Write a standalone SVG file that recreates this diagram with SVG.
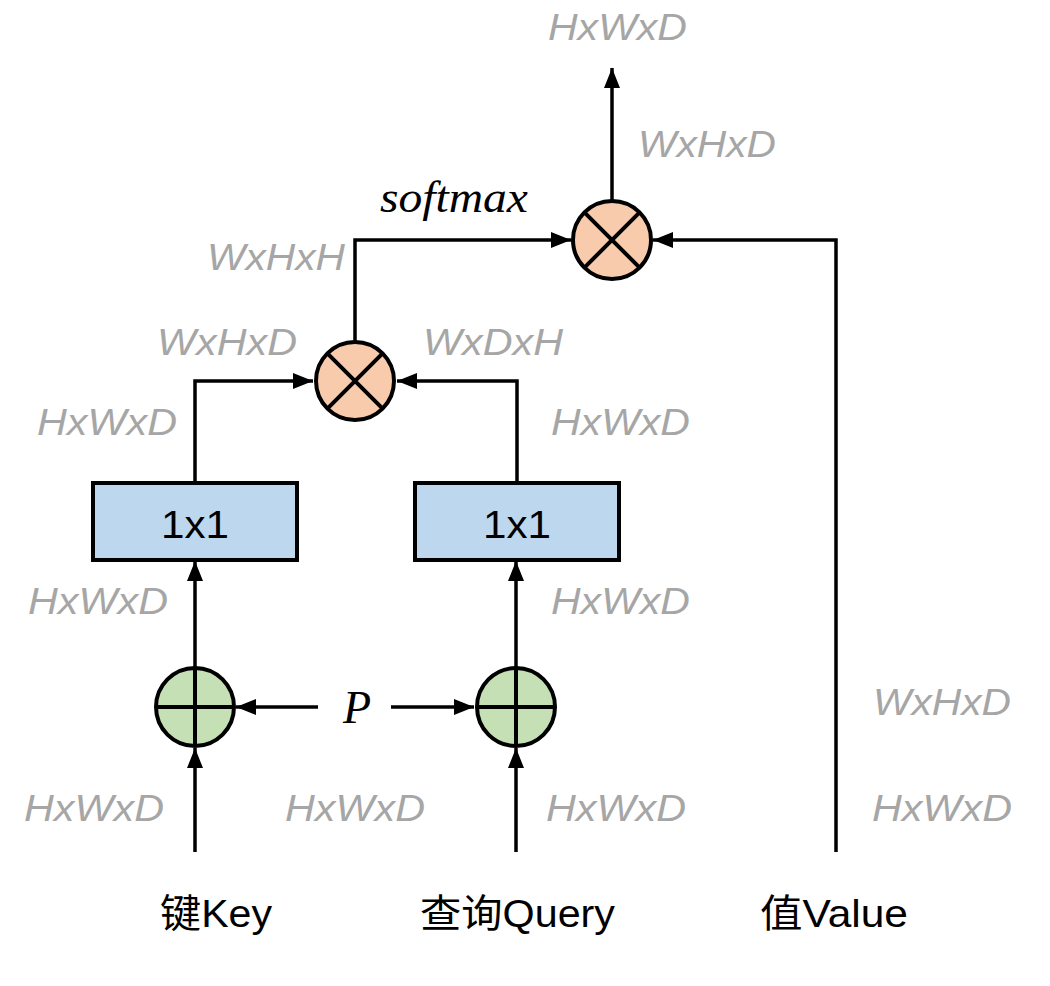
<svg xmlns="http://www.w3.org/2000/svg" width="1050" height="986" viewBox="0 0 1050 986">
<defs>
<marker id="ah" markerUnits="userSpaceOnUse" markerWidth="20" markerHeight="16" viewBox="0 0 20 16" refX="20" refY="8" orient="auto">
<path d="M0,0 L20,8 L0,16 Z" fill="#000"/>
</marker>
</defs>
<style>
.dim{font-family:"Liberation Sans",Arial,sans-serif;font-style:italic;font-size:37px;fill:#a6a6a6}
.lbl{font-family:"Liberation Sans",Arial,"Noto Sans CJK SC",sans-serif;font-size:39px;fill:#000}
.ser{font-family:"Liberation Serif","Times New Roman",serif;font-style:italic;fill:#000}
.ln{fill:none;stroke:#000;stroke-width:3.5}
.mul{fill:#f8cbad;stroke:#000;stroke-width:4}
.add{fill:#c5e0b4;stroke:#000;stroke-width:4}
.box{fill:#bdd7ee;stroke:#000;stroke-width:4}
.cr{stroke:#000;stroke-width:4}
</style>
<rect width="1050" height="986" fill="#fff"/>
<g id="connectors">
<path class="ln" d="M612,200 V68" marker-end="url(#ah)"/>
<path class="ln" d="M355,341 V240 H571" marker-end="url(#ah)"/>
<path class="ln" d="M836,852 V240 H653" marker-end="url(#ah)"/>
<path class="ln" d="M195,483 V381 H313" marker-end="url(#ah)"/>
<path class="ln" d="M517,483 V381 H397" marker-end="url(#ah)"/>
<path class="ln" d="M195,667 V561" marker-end="url(#ah)"/>
<path class="ln" d="M516,667 V561" marker-end="url(#ah)"/>
<path class="ln" d="M195,852 V748" marker-end="url(#ah)"/>
<path class="ln" d="M516,852 V748" marker-end="url(#ah)"/>
<path class="ln" d="M318,707 H236" marker-end="url(#ah)"/>
<path class="ln" d="M391,707 H474" marker-end="url(#ah)"/>
</g>
<g id="mulTop">
<circle class="mul" cx="612" cy="240" r="39"/>
<path class="cr" d="M584.4,212.4 L639.6,267.6 M639.6,212.4 L584.4,267.6"/>
</g>
<g id="mulMid">
<circle class="mul" cx="355" cy="381" r="39"/>
<path class="cr" d="M327.4,353.4 L382.6,408.6 M382.6,353.4 L327.4,408.6"/>
</g>
<g id="convKey">
<rect class="box" x="93" y="483" width="204" height="77"/>
<text class="lbl" x="195" y="538" font-size="46" text-anchor="middle" textLength="68" lengthAdjust="spacingAndGlyphs">1x1</text>
</g>
<g id="convQuery">
<rect class="box" x="415" y="483" width="204" height="77"/>
<text class="lbl" x="517" y="538" font-size="46" text-anchor="middle" textLength="68" lengthAdjust="spacingAndGlyphs">1x1</text>
</g>
<g id="addKey">
<circle class="add" cx="195" cy="707" r="39"/>
<path class="cr" d="M195,668 V746 M156,707 H234"/>
</g>
<g id="addQuery">
<circle class="add" cx="516" cy="707" r="39"/>
<path class="cr" d="M516,668 V746 M477,707 H555"/>
</g>
<g id="labels">
<text class="ser" x="380" y="212" font-size="44" textLength="148" lengthAdjust="spacingAndGlyphs">softmax</text>
<text class="ser" x="357" y="723" font-size="46" text-anchor="middle">P</text>
<text class="dim" x="548" y="40" textLength="139" lengthAdjust="spacingAndGlyphs">HxWxD</text>
<text class="dim" x="638" y="157" textLength="138" lengthAdjust="spacingAndGlyphs">WxHxD</text>
<text class="dim" x="207" y="270" textLength="138" lengthAdjust="spacingAndGlyphs">WxHxH</text>
<text class="dim" x="157" y="355" textLength="140" lengthAdjust="spacingAndGlyphs">WxHxD</text>
<text class="dim" x="423" y="355" textLength="140" lengthAdjust="spacingAndGlyphs">WxDxH</text>
<text class="dim" x="37" y="435" textLength="140" lengthAdjust="spacingAndGlyphs">HxWxD</text>
<text class="dim" x="551" y="435" textLength="139" lengthAdjust="spacingAndGlyphs">HxWxD</text>
<text class="dim" x="28" y="614" textLength="140" lengthAdjust="spacingAndGlyphs">HxWxD</text>
<text class="dim" x="551" y="614" textLength="139" lengthAdjust="spacingAndGlyphs">HxWxD</text>
<text class="dim" x="873" y="715" textLength="138" lengthAdjust="spacingAndGlyphs">WxHxD</text>
<text class="dim" x="24" y="821" textLength="140" lengthAdjust="spacingAndGlyphs">HxWxD</text>
<text class="dim" x="285" y="821" textLength="140" lengthAdjust="spacingAndGlyphs">HxWxD</text>
<text class="dim" x="546" y="821" textLength="140" lengthAdjust="spacingAndGlyphs">HxWxD</text>
<text class="dim" x="872" y="821" textLength="140" lengthAdjust="spacingAndGlyphs">HxWxD</text>
<text class="lbl" x="160" y="927" textLength="112" lengthAdjust="spacingAndGlyphs">键Key</text>
<text class="lbl" x="420" y="927" textLength="195" lengthAdjust="spacingAndGlyphs">查询Query</text>
<text class="lbl" x="760" y="927" textLength="148" lengthAdjust="spacingAndGlyphs">值Value</text>
</g>
</svg>
